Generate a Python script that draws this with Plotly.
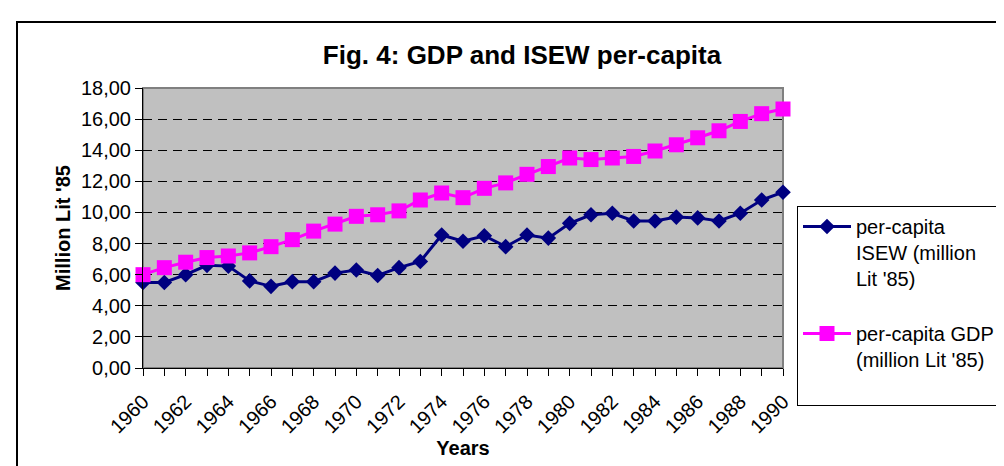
import plotly.graph_objects as go

years = [1960, 1961, 1962, 1963, 1964, 1965, 1966, 1967, 1968, 1969, 1970,
         1971, 1972, 1973, 1974, 1975, 1976, 1977, 1978, 1979, 1980,
         1981, 1982, 1983, 1984, 1985, 1986, 1987, 1988, 1989, 1990]

isew_per_capita = [5.5, 5.5, 6.0, 6.6, 6.55, 5.6, 5.25, 5.55, 5.55, 6.1, 6.3,
                   5.95, 6.45, 6.85, 8.55, 8.15, 8.5, 7.8, 8.55, 8.35, 9.3,
                   9.85, 9.95, 9.45, 9.45, 9.7, 9.65, 9.45, 9.95, 10.8, 11.3]

gdp_per_capita = [6.0, 6.45, 6.8, 7.1, 7.2, 7.4, 7.8, 8.25, 8.8, 9.25, 9.75,
                  9.85, 10.1, 10.8, 11.25, 10.95, 11.55, 11.9, 12.45, 12.95, 13.5,
                  13.4, 13.5, 13.6, 13.95, 14.35, 14.8, 15.25, 15.85, 16.35, 16.65]

x_tick_labels = ["1960", "", "1962", "", "1964", "", "1966", "", "1968", "", "1970",
                 "", "1972", "", "1974", "", "1976", "", "1978", "", "1980",
                 "", "1982", "", "1984", "", "1986", "", "1988", "", "1990"]

y_tick_values = [0, 2, 4, 6, 8, 10, 12, 14, 16, 18]

series_names = ["per-capita<br>ISEW (million<br>Lit '85)<br> ",
                "per-capita GDP<br>(million Lit '85)<br> "]

FONT = "Liberation Sans, Arial, sans-serif"

W, H = 1004, 466
L, R, T, B = 135, 229, 80, 106
PW, PH = W - L - R, H - T - B


def px_x(p):
    return (p - L) / PW


def px_y(p):
    return (H - B - p) / PH


fig = go.Figure()

fig.add_trace(go.Scatter(
    x=years, y=isew_per_capita, name=series_names[0], mode="lines+markers",
    line=dict(color="#000080", width=3),
    marker=dict(symbol="diamond", size=12, color="#000080"),
    cliponaxis=False, legendgroup="a",
))
fig.add_trace(go.Scatter(
    x=years, y=gdp_per_capita, name=series_names[1], mode="lines+markers",
    line=dict(color="#FF00FF", width=3),
    marker=dict(symbol="square", size=15, color="#FF00FF"),
    cliponaxis=False, legendgroup="b",
))

fig.update_layout(
    width=W, height=H,
    margin=dict(l=L, r=R, t=T, b=B, autoexpand=False),
    paper_bgcolor="white",
    plot_bgcolor="#C0C0C0",
    separators=",.",
    font=dict(family=FONT, size=20, color="black"),
    title=dict(
        text="Fig. 4: GDP and ISEW per-capita",
        font=dict(family=FONT, size=26, color="black", weight="bold"),
        x=514 / W, xanchor="center", xref="container",
        y=1 - 47 / H, yanchor="middle", yref="container",
    ),
    xaxis=dict(
        range=[1960, 1990],
        tickmode="array", tickvals=years, ticktext=x_tick_labels,
        tickangle=-45, ticks="outside", ticklen=7, tickcolor="black",
        tickfont=dict(family=FONT, size=20, color="black"),
        ticklabelstandoff=6,
        showgrid=False, zeroline=False,
        showline=True, linecolor="black", linewidth=1,
        title=dict(text="Years", font=dict(family=FONT, size=20, weight="bold"),
                   standoff=2),
    ),
    xaxis2=dict(
        range=[1960, 1990], overlaying="x", anchor="y", side="bottom",
        tickmode="array", tickvals=years, ticks="inside", ticklen=7,
        tickcolor="black", showticklabels=False, showgrid=False,
        zeroline=False, showline=False,
    ),
    yaxis=dict(
        range=[0, 18], tickmode="array", tickvals=y_tick_values,
        tickformat=".2f", ticks="outside", ticklen=7, tickcolor="black",
        tickfont=dict(family=FONT, size=20, color="black"),
        showgrid=True, gridcolor="black", gridwidth=1, griddash="9px,6px",
        zeroline=False, showline=True, linecolor="black", linewidth=1,
        title=dict(text="Million Lit '85",
                   font=dict(family=FONT, size=20, weight="bold"), standoff=4),
    ),
    legend=dict(
        xref="container", yref="container",
        x=789 / W, xanchor="left", y=1 - 198 / H, yanchor="top",
        bgcolor="white", bordercolor="black", borderwidth=1,
        font=dict(family=FONT, size=20, color="black"),
        valign="top", itemwidth=48, traceorder="grouped", tracegroupgap=0,
        entrywidth=240,
    ),
    showlegend=True,
    shapes=[
        dict(type="rect", xref="paper", yref="paper", x0=0, x1=1, y0=0, y1=1,
             line=dict(color="#808080", width=2), layer="below"),
        dict(type="rect", xref="paper", yref="paper",
             x0=px_x(9), x1=px_x(1020), y0=px_y(14), y1=px_y(480),
             line=dict(color="black", width=2), layer="below"),
    ],
)

fig.write_html("out.html")
